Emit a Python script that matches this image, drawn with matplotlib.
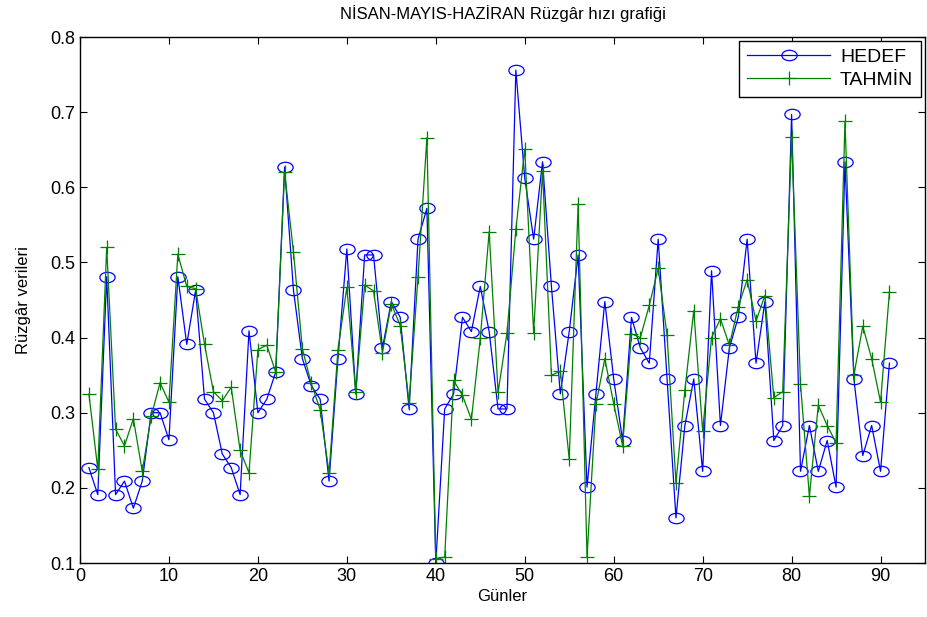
import matplotlib
matplotlib.use("Agg")
import matplotlib.pyplot as plt
from matplotlib.path import Path

gunler = list(range(1, 92))

hedef = [
    0.227, 0.191, 0.481, 0.191, 0.209, 0.173, 0.209, 0.300, 0.300, 0.264,
    0.481, 0.391, 0.463, 0.318, 0.300, 0.245, 0.227, 0.191, 0.409, 0.300,
    0.318, 0.354, 0.627, 0.463, 0.372, 0.336, 0.318, 0.209, 0.372, 0.518,
    0.325, 0.510, 0.510, 0.386, 0.448, 0.427, 0.305, 0.531, 0.572, 0.100,
    0.305, 0.325, 0.427, 0.408, 0.468, 0.408, 0.305, 0.305, 0.756, 0.612,
    0.531, 0.634, 0.468, 0.325, 0.408, 0.510, 0.201, 0.325, 0.448, 0.345,
    0.263, 0.427, 0.386, 0.366, 0.531, 0.345, 0.160, 0.283, 0.345, 0.222,
    0.489, 0.283, 0.386, 0.427, 0.531, 0.366, 0.448, 0.263, 0.283, 0.697,
    0.222, 0.283, 0.222, 0.263, 0.201, 0.634, 0.345, 0.243, 0.283, 0.222,
    0.366,
]

tahmin = [
    0.325, 0.225, 0.520, 0.278, 0.256, 0.292, 0.222, 0.295, 0.340, 0.314,
    0.511, 0.468, 0.465, 0.391, 0.328, 0.316, 0.334, 0.250, 0.220, 0.384,
    0.390, 0.354, 0.620, 0.514, 0.385, 0.339, 0.304, 0.220, 0.384, 0.467,
    0.327, 0.470, 0.462, 0.380, 0.445, 0.416, 0.313, 0.481, 0.666, 0.105,
    0.108, 0.343, 0.323, 0.291, 0.399, 0.541, 0.327, 0.406, 0.544, 0.651,
    0.406, 0.622, 0.350, 0.355, 0.238, 0.578, 0.108, 0.311, 0.372, 0.312,
    0.256, 0.405, 0.400, 0.443, 0.492, 0.403, 0.207, 0.330, 0.436, 0.276,
    0.400, 0.425, 0.390, 0.441, 0.477, 0.422, 0.456, 0.320, 0.328, 0.667,
    0.338, 0.189, 0.310, 0.283, 0.260, 0.688, 0.350, 0.415, 0.372, 0.314,
    0.461,
]

plt.rcParams["font.family"] = ["Liberation Sans", "DejaVu Sans"]

# the original's circles are drawn slightly squashed (wider than tall)
circ = Path.unit_circle()
ellipse = Path(circ.vertices * [1.0, 0.68], circ.codes)

fig = plt.figure(figsize=(9.28, 6.17), dpi=100)
ax = fig.add_axes([0.0862, 0.0875, 0.9106, 0.8525])

ax.plot(gunler, hedef, color="#0000ff", linewidth=0.9, marker=ellipse,
        markersize=11, markerfacecolor="none", markeredgecolor="#0000ff",
        markeredgewidth=0.9, label="HEDEF")
ax.plot(gunler, tahmin, color="#008000", linewidth=0.9, marker="+",
        markersize=10, markeredgewidth=0.9, label="TAHMİN")

ax.set_xlim(0, 95)
ax.set_ylim(0.1, 0.8)
ax.set_xticks(range(0, 91, 10))
ax.set_yticks([0.1, 0.2, 0.3, 0.4, 0.5, 0.6, 0.7, 0.8])
ax.set_yticklabels(["0.1", "0.2", "0.3", "0.4", "0.5", "0.6", "0.7", "0.8"])
ax.tick_params(direction="in", top=True, right=True, labelsize=13,
               length=5, width=0.8)
for s in ax.spines.values():
    s.set_linewidth(1.0)

ax.set_title("NİSAN-MAYIS-HAZİRAN Rüzgâr hızı grafiği", fontsize=12, pad=13)
ax.set_xlabel("Günler", fontsize=12, labelpad=3)
ax.set_ylabel("Rüzgâr verileri", fontsize=12, labelpad=14)

leg = ax.legend(loc="upper right", fontsize=14, frameon=True, fancybox=False,
                edgecolor="black", framealpha=1, borderaxespad=0.2,
                handlelength=4.3, handletextpad=0.5, labelspacing=0.25,
                borderpad=0.4)
leg.get_frame().set_linewidth(1.0)

fig.savefig("out.png", dpi=100)
